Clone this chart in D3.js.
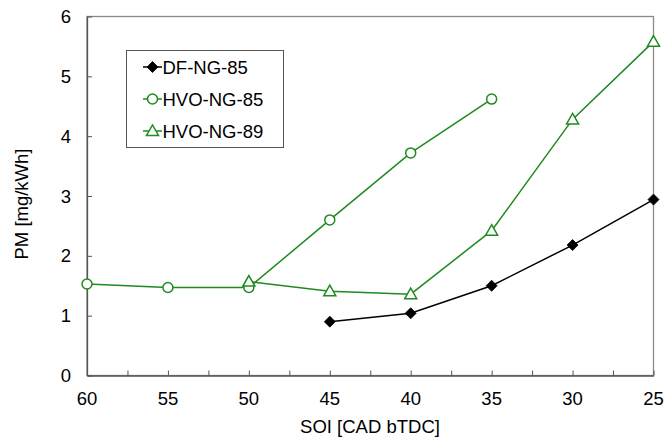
<!DOCTYPE html>
<html>
<head>
<meta charset="utf-8">
<script src="https://cdn.jsdelivr.net/npm/d3@7"></script>
<style>
  html, body { margin: 0; padding: 0; background: #fff; }
  svg { display: block; font-family: "Liberation Sans", Arial, sans-serif; }
</style>
</head>
<body>
<svg id="chart" width="664" height="439"></svg>
<script>
// SOI positions (CAD bTDC)
const soi = [60, 55, 50, 45, 40, 35, 30, 25];

// PM emissions [mg/kWh] per series
const dfNg85Soi = [45, 40, 35, 30, 25];
const dfNg85Pm  = [0.90, 1.04, 1.50, 2.18, 2.94];

const hvoNg85Soi = [60, 55, 50, 45, 40, 35];
const hvoNg85Pm  = [1.53, 1.47, 1.47, 2.60, 3.72, 4.62];

const hvoNg89Soi = [50, 45, 40, 35, 30, 25];
const hvoNg89Pm  = [1.57, 1.41, 1.36, 2.42, 4.28, 5.58];

const seriesNames = ["DF-NG-85", "HVO-NG-85", "HVO-NG-89"];
const yTicks = [0, 1, 2, 3, 4, 5, 6];
const xTicks = [60, 55, 50, 45, 40, 35, 30, 25];
const xMinorTicks = [57.5, 52.5, 47.5, 42.5, 37.5, 32.5, 27.5];

const green = "#1f8a1f";
const series = [
  { name: seriesNames[0], x: dfNg85Soi, y: dfNg85Pm, color: "#000", marker: "diamond" },
  { name: seriesNames[1], x: hvoNg85Soi, y: hvoNg85Pm, color: green, marker: "circle" },
  { name: seriesNames[2], x: hvoNg89Soi, y: hvoNg89Pm, color: green, marker: "triangle" }
];

const svg = d3.select("#chart");
const plotLeft = 87, plotRight = 653.5, plotTop = 16.5, plotBottom = 375.5;

const x = d3.scaleLinear().domain([60, 25]).range([plotLeft, plotRight]);
const y = d3.scaleLinear().domain([0, 6]).range([plotBottom, plotTop]);

// plot frame
svg.append("rect")
  .attr("x", plotLeft).attr("y", plotTop)
  .attr("width", plotRight - plotLeft).attr("height", plotBottom - plotTop)
  .attr("fill", "none").attr("stroke", "#8a8a8a").attr("stroke-width", 1.3);

// axes with inward ticks
const xAxis = svg.append("g").attr("transform", `translate(0,${plotBottom})`)
  .call(d3.axisBottom(x).tickValues(xTicks.concat(xMinorTicks)).tickSizeInner(-5).tickSizeOuter(0).tickFormat(""));
xAxis.select(".domain").attr("stroke", "#555").attr("stroke-width", 1.3);
xAxis.selectAll(".tick line").attr("stroke", "#555").attr("stroke-width", 1);

const yAxis = svg.append("g").attr("transform", `translate(${plotLeft},0)`)
  .call(d3.axisLeft(y).tickValues(yTicks).tickSizeInner(-5).tickSizeOuter(0).tickFormat(""));
yAxis.select(".domain").attr("stroke", "#555").attr("stroke-width", 1.3);
yAxis.selectAll(".tick line").attr("stroke", "#555").attr("stroke-width", 1);

// tick labels
svg.append("g").selectAll("text").data(xTicks).join("text")
  .attr("x", d => x(d)).attr("y", 405)
  .attr("text-anchor", "middle").attr("font-size", 18.5).attr("fill", "#000")
  .text(d => d);
svg.append("g").selectAll("text").data(yTicks).join("text")
  .attr("x", 71).attr("y", d => y(d) + 6.5)
  .attr("text-anchor", "end").attr("font-size", 18.5).attr("fill", "#000")
  .text(d => d);

// axis titles
svg.append("text").attr("x", 370).attr("y", 432.5)
  .attr("text-anchor", "middle").attr("font-size", 18.5).text("SOI [CAD bTDC]");
svg.append("text").attr("transform", "translate(28,204) rotate(-90)")
  .attr("text-anchor", "middle").attr("font-size", 18.5).text("PM [mg/kWh]");

function drawMarker(g, type, color) {
  if (type === "diamond") {
    g.append("path").attr("d", "M0,-5.5L5.5,0L0,5.5L-5.5,0Z").attr("fill", color).attr("stroke", color).attr("stroke-width", 0.8);
  } else if (type === "circle") {
    g.append("circle").attr("r", 5).attr("fill", "#fff").attr("stroke", color).attr("stroke-width", 1.5);
  } else {
    g.append("path").attr("d", "M0,-6L6,4.5L-6,4.5Z").attr("fill", "#fff").attr("stroke", color).attr("stroke-width", 1.5);
  }
}

const line = d3.line().x(d => x(d[0])).y(d => y(d[1]));

series.forEach(s => {
  const pts = s.x.map((v, i) => [v, s.y[i]]);
  svg.append("path").datum(pts).attr("d", line)
    .attr("fill", "none").attr("stroke", s.color).attr("stroke-width", 1.5);
  pts.forEach(p => {
    const g = svg.append("g").attr("transform", `translate(${x(p[0])},${y(p[1])})`);
    drawMarker(g, s.marker, s.color);
  });
});

// legend
const legend = svg.append("g");
legend.append("rect").attr("x", 126.5).attr("y", 50.5).attr("width", 157).attr("height", 97)
  .attr("fill", "#fff").attr("stroke", "#555").attr("stroke-width", 1);
series.forEach((s, i) => {
  const ly = 67 + i * 32;
  legend.append("line").attr("x1", 143).attr("x2", 162).attr("y1", ly).attr("y2", ly)
    .attr("stroke", s.color).attr("stroke-width", 1.5);
  const g = legend.append("g").attr("transform", `translate(152.5,${ly})`);
  drawMarker(g, s.marker, s.color);
  legend.append("text").attr("x", 162.5).attr("y", ly + 6.5)
    .attr("font-size", 18.5).attr("fill", "#000").text(s.name);
});
</script>
</body>
</html>
